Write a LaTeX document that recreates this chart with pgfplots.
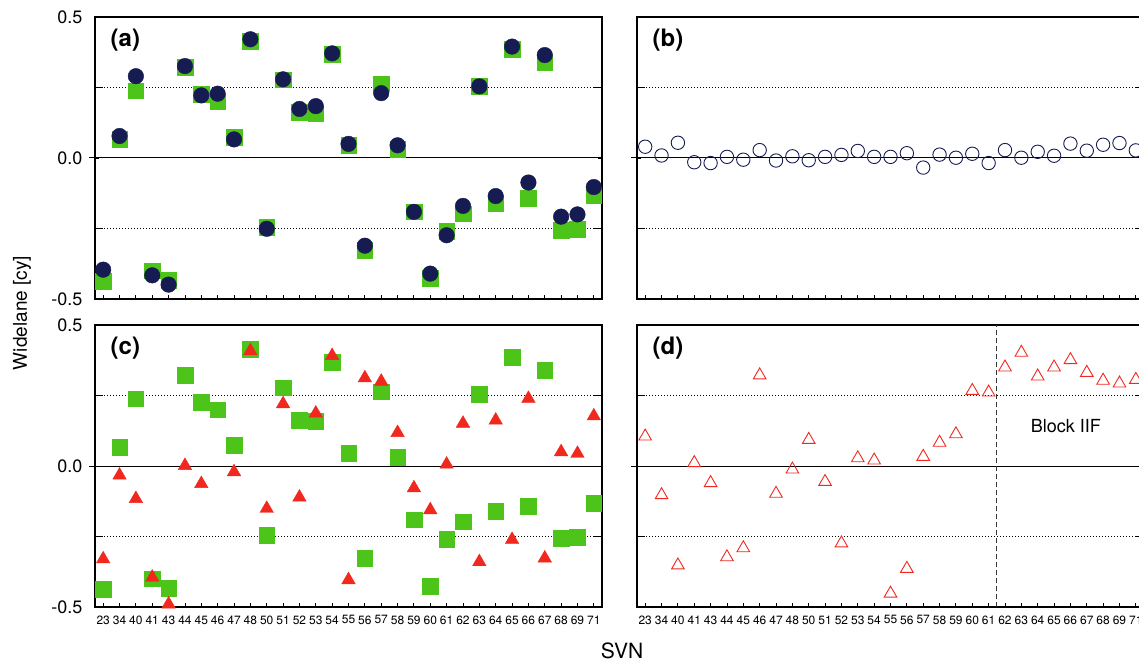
\documentclass[border=0pt]{standalone}
\usepackage{fontspec}
\setmainfont{TeX Gyre Heros}
\usepackage{pgfplots}
\pgfplotsset{compat=1.18}
\definecolor{navy}{HTML}{161C52}
\definecolor{grn}{HTML}{4CC41A}
\definecolor{red1}{HTML}{F0281E}

\tikzset{plab/.style={anchor=west, font=\fontsize{24}{26}\selectfont\bfseries}}
\pgfplotsset{
 panel/.style={
  scale only axis, width=507pt, height=282pt,
  xmin=-0.5, xmax=30.5, ymin=-0.5, ymax=0.5,
  xtick={0,...,30}, xtick pos=left,
  ytick={-0.5,0.5}, ytick pos=both,
  minor ytick={-0.25,0.25}, yminorgrids=true,
  minor grid style={black, line width=0.7pt, dash pattern=on 1pt off 2pt},
  extra y ticks={0},
  extra y tick style={grid=major, major grid style={solid, black, line width=1pt}},
  tick align=inside, major tick length=4pt, minor tick length=8pt,
  tick style={black, line width=0.9pt},
  axis line style={line width=1.6pt},
  xticklabel style={font=\fontsize{12}{13}\selectfont, yshift=-5pt},
  yticklabel style={font=\fontsize{18}{20}\selectfont, xshift=-9pt},
  clip mode=individual,
 },
 leftp/.style={yticklabels={-0.5,0.5}, extra y tick labels={0.0}},
 rightp/.style={yticklabels={}, extra y tick labels={}},
 toplab/.style={xticklabels={}},
 botlab/.style={xticklabels={23,34,40,41,43,44,45,46,47,48,50,51,52,53,54,55,56,57,58,59,60,61,62,63,64,65,66,67,68,69,71}},
}

\begin{document}
\begin{tikzpicture}
\path[use as bounding box] (0pt,0pt) rectangle (1139pt,664pt);
\clip (0pt,0pt) rectangle (1139pt,664pt);

% (a)
\begin{axis}[panel, leftp, toplab, at={(95pt,365pt)}, anchor=south west]
\addplot[only marks, mark=square*, mark size=7.8pt, color=grn] coordinates {
(0,-0.436) (1,0.067) (2,0.238) (3,-0.400) (4,-0.434) (5,0.323) (6,0.226) (7,0.199)
(8,0.073) (9,0.414) (10,-0.245) (11,0.277) (12,0.163) (13,0.158) (14,0.368) (15,0.046)
(16,-0.327) (17,0.264) (18,0.032) (19,-0.191) (20,-0.427) (21,-0.259) (22,-0.197) (23,0.254)
(24,-0.161) (25,0.385) (26,-0.142) (27,0.340) (28,-0.255) (29,-0.253) (30,-0.131)};
\addplot[only marks, mark=*, mark size=7.8pt, color=navy] coordinates {
(0,-0.396) (1,0.078) (2,0.290) (3,-0.416) (4,-0.449) (5,0.326) (6,0.222) (7,0.228)
(8,0.066) (9,0.421) (10,-0.251) (11,0.279) (12,0.174) (13,0.184) (14,0.371) (15,0.050)
(16,-0.311) (17,0.230) (18,0.045) (19,-0.191) (20,-0.410) (21,-0.274) (22,-0.170) (23,0.254)
(24,-0.135) (25,0.395) (26,-0.087) (27,0.365) (28,-0.208) (29,-0.200) (30,-0.103)};
\node[plab] at (rel axis cs:0.024,0.918) {(a)};
\end{axis}

% (b)
\begin{axis}[panel, rightp, toplab, at={(637pt,365pt)}, anchor=south west]
\addplot[only marks, mark=o, mark size=6.7pt, color=navy, line width=0.9pt] coordinates {
(0,0.040) (1,0.009) (2,0.054) (3,-0.015) (4,-0.018) (5,0.004) (6,-0.006) (7,0.028)
(8,-0.009) (9,0.006) (10,-0.008) (11,0.004) (12,0.011) (13,0.025) (14,0.004) (15,0.004)
(16,0.017) (17,-0.034) (18,0.012) (19,0.001) (20,0.015) (21,-0.018) (22,0.028) (23,0.001)
(24,0.022) (25,0.008) (26,0.051) (27,0.026) (28,0.047) (29,0.053) (30,0.027)};
\node[plab] at (rel axis cs:0.024,0.918) {(b)};
\end{axis}

% (c)
\begin{axis}[panel, leftp, botlab, at={(95pt,57pt)}, anchor=south west]
\addplot[only marks, mark=square*, mark size=7.8pt, color=grn] coordinates {
(0,-0.436) (1,0.067) (2,0.238) (3,-0.400) (4,-0.434) (5,0.323) (6,0.226) (7,0.199)
(8,0.073) (9,0.414) (10,-0.245) (11,0.277) (12,0.163) (13,0.158) (14,0.368) (15,0.046)
(16,-0.327) (17,0.264) (18,0.032) (19,-0.191) (20,-0.427) (21,-0.259) (22,-0.197) (23,0.254)
(24,-0.161) (25,0.385) (26,-0.142) (27,0.340) (28,-0.255) (29,-0.253) (30,-0.131)};
\addplot[only marks, mark=triangle*, mark size=7.8pt, color=red1] coordinates {
(0,-0.330) (1,-0.033) (2,-0.116) (3,-0.395) (4,-0.490) (5,0.001) (6,-0.063)
(8,-0.021) (9,0.408) (10,-0.151) (11,0.220) (12,-0.111) (13,0.187) (14,0.391) (15,-0.404)
(16,0.312) (17,0.300) (18,0.118) (19,-0.078) (20,-0.156) (21,0.006) (22,0.151) (23,-0.340)
(24,0.162) (25,-0.261) (26,0.239) (27,-0.327) (28,0.050) (29,0.044) (30,0.177)};
\node[plab] at (rel axis cs:0.024,0.918) {(c)};
\end{axis}

% (d)
\begin{axis}[panel, rightp, botlab, at={(637pt,57pt)}, anchor=south west]
\addplot[only marks, mark=triangle, mark size=7.3pt, color=red1, line width=0.9pt] coordinates {
(0,0.105) (1,-0.103) (2,-0.352) (3,0.011) (4,-0.060) (5,-0.323) (6,-0.291) (7,0.322)
(8,-0.098) (9,-0.012) (10,0.093) (11,-0.056) (12,-0.274) (13,0.028) (14,0.020) (15,-0.452)
(16,-0.364) (17,0.033) (18,0.083) (19,0.113) (20,0.267) (21,0.261) (22,0.350) (23,0.402)
(24,0.318) (25,0.350) (26,0.376) (27,0.331) (28,0.303) (29,0.293) (30,0.306)};
\draw[black!80, line width=1.3pt, dash pattern=on 5pt off 3pt] (axis cs:21.5,-0.5) -- (axis cs:21.5,0.5);
\node[font=\fontsize{18}{20}\selectfont] at (rel axis cs:0.846,0.642) {Block IIF};
\node[plab] at (rel axis cs:0.024,0.918) {(d)};
\end{axis}

% zero-line stubs outside left border
\draw[black, line width=1pt] (95pt,506pt) -- ++(-6pt,0);
\draw[black, line width=1pt] (637pt,506pt) -- ++(-6pt,0);
\draw[black, line width=1pt] (95pt,198pt) -- ++(-6pt,0);
\draw[black, line width=1pt] (637pt,198pt) -- ++(-6pt,0);

\node[rotate=90, font=\fontsize{19}{20}\selectfont] at (22pt,351pt) {Widelane [cy]};
\node[font=\fontsize{21}{22}\selectfont] at (622pt,13pt) {SVN};
\end{tikzpicture}
\end{document}
